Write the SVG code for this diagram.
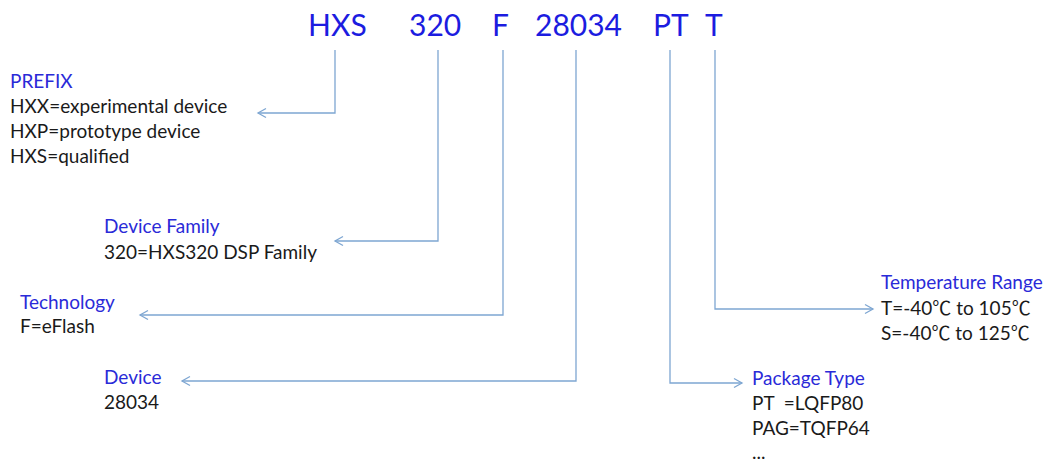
<svg xmlns="http://www.w3.org/2000/svg" width="1057" height="467" viewBox="0 0 1057 467">
<style>
.title{font-family:Lato,"Liberation Sans",sans-serif;font-size:30px;fill:#1c1ce0}
.head{font-family:Lato,"Liberation Sans",sans-serif;font-size:19px;fill:#2a2ad8}
.body{font-family:Lato,"Liberation Sans","Noto Sans CJK SC",sans-serif;font-size:19px;fill:#1a1a1a;white-space:pre}
.conn{fill:none;stroke:#7ea6d2;stroke-width:1.3}
</style>
<defs>
<marker id="arr" markerWidth="12" markerHeight="12" refX="10" refY="6" orient="auto" markerUnits="userSpaceOnUse">
<path d="M2,1.5 L10,6 L2,10.5" fill="none" stroke="#7ea6d2" stroke-width="1.3"/>
</marker>
</defs>
<rect width="1057" height="467" fill="#ffffff"/>
<g id="title">
<text class="title" x="308" y="36">HXS</text>
<text class="title" x="409" y="36">320</text>
<text class="title" x="492" y="36">F</text>
<text class="title" x="535" y="36">28034</text>
<text class="title" x="653" y="36">PT</text>
<text class="title" x="705" y="36">T</text>
</g>
<g id="connectors">
<path class="conn" d="M335,50 V113 H258" marker-end="url(#arr)"/>
<path class="conn" d="M438,50 V241 H335" marker-end="url(#arr)"/>
<path class="conn" d="M503,50 V315 H140" marker-end="url(#arr)"/>
<path class="conn" d="M576,50 V381 H182" marker-end="url(#arr)"/>
<path class="conn" d="M670,50 V383 H742" marker-end="url(#arr)"/>
<path class="conn" d="M715,50 V309 H873" marker-end="url(#arr)"/>
</g>
<g id="prefix">
<text class="head" x="10" y="88">PREFIX</text>
<text class="body" x="10" y="113">HXX=experimental device</text>
<text class="body" x="10" y="138">HXP=prototype device</text>
<text class="body" x="10" y="163">HXS=qualified</text>
</g>
<g id="device-family">
<text class="head" x="104" y="233">Device Family</text>
<text class="body" x="104" y="259">320=HXS320 DSP Family</text>
</g>
<g id="technology">
<text class="head" x="20" y="309">Technology</text>
<text class="body" x="20" y="333">F=eFlash</text>
</g>
<g id="device">
<text class="head" x="104" y="384">Device</text>
<text class="body" x="104" y="409">28034</text>
</g>
<g id="package-type">
<text class="head" x="752" y="385">Package Type</text>
<text class="body" x="752" y="410" xml:space="preserve">PT  =LQFP80</text>
<text class="body" x="752" y="435">PAG=TQFP64</text>
<text class="body" x="752" y="459">...</text>
</g>
<g id="temperature-range">
<text class="head" x="881" y="289">Temperature Range</text>
<text class="body" x="881" y="315">T=-40℃ to 105℃</text>
<text class="body" x="881" y="340">S=-40℃ to 125℃</text>
</g>
</svg>
